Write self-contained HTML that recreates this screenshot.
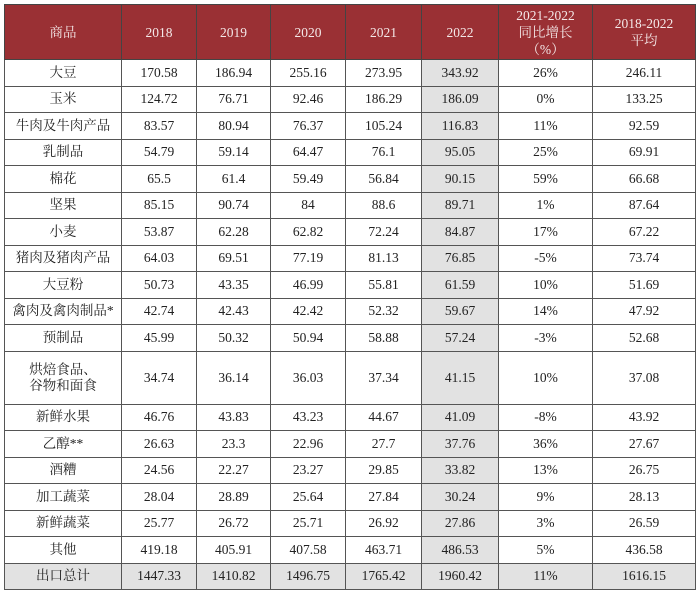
<!DOCTYPE html>
<html><head><meta charset="utf-8"><style>
body{margin:0;background:#fff;width:700px;height:594px;overflow:hidden}
table{position:absolute;left:4px;top:4px;border-collapse:collapse;table-layout:fixed;width:691px;font-family:"Liberation Serif","Noto Serif CJK SC",serif;font-size:13.5px;color:#222}
td,th{border:1px solid #555;text-align:center;padding:0;height:25.5px;line-height:16px}
th{background:#9a3034;color:#f4e8e8;font-weight:normal;height:54px;border-color:#444;line-height:17px}
td.g{background:#e2e2e2}
tr.t td{background:#e2e2e2}
</style></head><body>
<table>
<colgroup><col style="width:117px"><col style="width:75px"><col style="width:74px"><col style="width:75px"><col style="width:76px"><col style="width:77px"><col style="width:94px"><col style="width:103px"></colgroup>
<thead><tr>
<th>商品</th>
<th>2018</th>
<th>2019</th>
<th>2020</th>
<th>2021</th>
<th>2022</th>
<th>2021-2022<br>同比增长<br>（%）</th>
<th>2018-2022<br>平均</th>
</tr></thead>
<tbody id="tb"></tbody></table>
<script>
const names=["大豆","玉米","牛肉及牛肉产品","乳制品","棉花","坚果","小麦","猪肉及猪肉产品","大豆粉","禽肉及禽肉制品*","预制品","烘焙食品、<br>谷物和面食","新鲜水果","乙醇**","酒糟","加工蔬菜","新鲜蔬菜","其他","出口总计"];
const v2018=["170.58","124.72","83.57","54.79","65.5","85.15","53.87","64.03","50.73","42.74","45.99","34.74","46.76","26.63","24.56","28.04","25.77","419.18","1447.33"];
const v2019=["186.94","76.71","80.94","59.14","61.4","90.74","62.28","69.51","43.35","42.43","50.32","36.14","43.83","23.3","22.27","28.89","26.72","405.91","1410.82"];
const v2020=["255.16","92.46","76.37","64.47","59.49","84","62.82","77.19","46.99","42.42","50.94","36.03","43.23","22.96","23.27","25.64","25.71","407.58","1496.75"];
const v2021=["273.95","186.29","105.24","76.1","56.84","88.6","72.24","81.13","55.81","52.32","58.88","37.34","44.67","27.7","29.85","27.84","26.92","463.71","1765.42"];
const v2022=["343.92","186.09","116.83","95.05","90.15","89.71","84.87","76.85","61.59","59.67","57.24","41.15","41.09","37.76","33.82","30.24","27.86","486.53","1960.42"];
const growth=["26%","0%","11%","25%","59%","1%","17%","-5%","10%","14%","-3%","10%","-8%","36%","13%","9%","3%","5%","11%"];
const avg=["246.11","133.25","92.59","69.91","66.68","87.64","67.22","73.74","51.69","47.92","52.68","37.08","43.92","27.67","26.75","28.13","26.59","436.58","1616.15"];
const tb=document.getElementById('tb');
names.forEach((n,i)=>{
 const tr=document.createElement('tr');
 
 
 if(i===names.length-1)tr.className='t';
 const cells=[n,v2018[i],v2019[i],v2020[i],v2021[i],v2022[i],growth[i],avg[i]];
 cells.forEach((c,j)=>{
  const td=document.createElement('td');
  
  
  td.innerHTML=c;
  if(j===5)td.className='g';
  if(i===11)td.style.height='52px';
  tr.appendChild(td);
 });
 tb.appendChild(tr);
});
</script>
</body></html>
